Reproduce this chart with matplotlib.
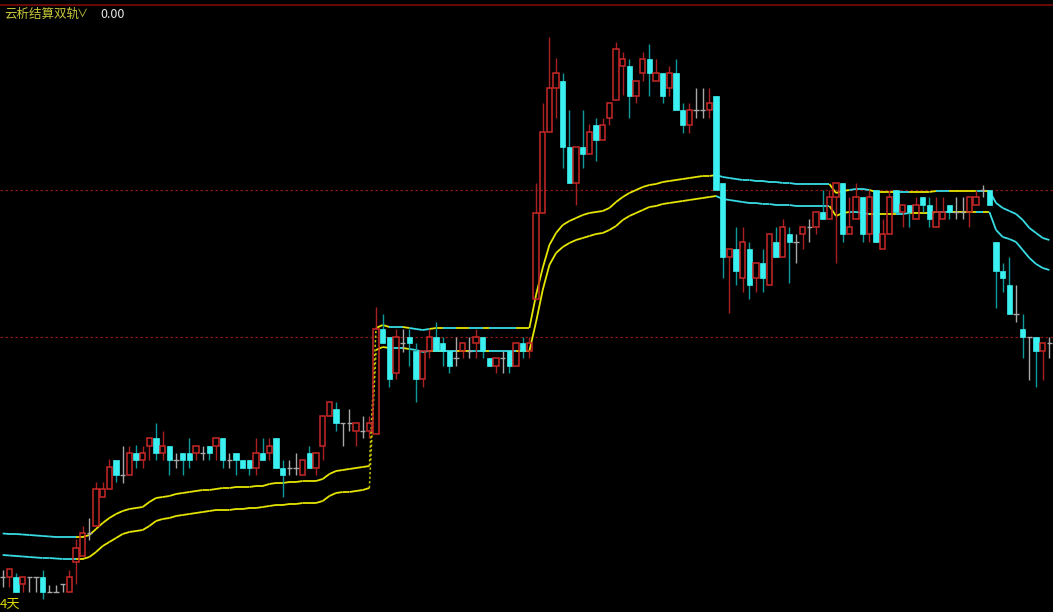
import matplotlib
matplotlib.use('Agg')
import matplotlib.pyplot as plt
from matplotlib.collections import LineCollection
from matplotlib.patches import Rectangle

# K线数据 (开, 收, 高, 低)
opens = [3.5, 3.5, 3.5, 2.8, 3.5, 3.5, 3.5, 2.0, 2.0, 2.8, 2.0, 5.0, 5.6, 7.9, 8.6, 11.5, 12.3, 15.2, 13.7, 13.7,
         15.9, 15.2, 16.6, 17.4, 15.9, 16.6, 15.2, 15.9, 15.9, 15.9, 15.9, 16.6, 16.6, 17.4, 15.2, 15.9, 15.2, 15.2, 14.4, 15.9,
         15.9, 17.4, 14.4, 14.4, 14.4, 13.7, 15.9, 14.4, 16.6, 19.6, 20.3, 18.9, 18.9, 18.1, 18.1, 18.1, 17.8, 28.3, 27.5, 23.9,
         26.9, 27.5, 26.1, 23.3, 26.1, 27.5, 26.9, 26.1, 25.4, 26.1, 26.1, 26.9, 27.5, 25.4, 24.6, 25.4, 26.1, 24.6, 26.9, 26.1,
         31.3, 39.9, 48.0, 52.4, 53.1, 46.5, 42.9, 46.5, 45.8, 48.7, 47.2, 49.4, 51.2, 54.6, 54.6, 51.6, 53.9, 55.3, 53.1, 53.9,
         52.4, 53.9, 50.2, 48.7, 50.2, 50.2, 50.2, 51.6, 42.9, 35.5, 36.3, 33.4, 36.3, 33.4, 34.9, 32.7, 37.0, 35.5, 37.8, 37.0,
         37.8, 38.5, 38.5, 40.0, 39.3, 41.5, 42.9, 37.8, 39.3, 41.5, 37.8, 42.2, 36.3, 37.8, 42.2, 40.0, 40.7, 39.3, 41.5, 40.7,
         38.5, 39.3, 40.7, 40.0, 40.0, 40.0, 40.7, 42.2, 42.2, 37.0, 34.1, 32.7, 29.8, 28.3, 27.5, 27.5, 26.1, 26.9]
closes = [3.5, 4.3, 2.0, 3.5, 3.5, 3.5, 2.0, 2.0, 2.0, 2.8, 3.5, 6.4, 7.9, 7.9, 12.3, 12.3, 14.5, 13.7, 13.7, 15.9,
          15.2, 15.9, 17.4, 15.9, 16.6, 15.2, 15.2, 15.2, 15.2, 16.6, 15.9, 15.9, 17.4, 15.2, 15.2, 15.2, 14.4, 14.4, 15.9, 15.2,
          16.6, 14.4, 13.7, 14.4, 14.4, 15.2, 14.4, 15.9, 19.6, 21.0, 18.9, 18.9, 18.9, 18.9, 18.1, 18.9, 28.3, 26.9, 23.3, 27.5,
          26.9, 26.9, 23.3, 26.1, 27.5, 26.1, 26.1, 24.6, 25.4, 26.9, 26.1, 27.5, 26.1, 24.6, 25.4, 25.4, 24.6, 26.9, 26.1, 26.9,
          39.9, 48.0, 52.4, 53.9, 46.5, 42.9, 46.5, 45.8, 48.0, 47.2, 48.7, 50.9, 56.3, 55.3, 51.6, 53.1, 55.3, 53.9, 53.9, 51.6,
          53.9, 50.2, 48.7, 50.2, 50.2, 50.2, 50.9, 42.2, 35.5, 36.3, 34.1, 37.0, 32.7, 34.9, 33.4, 37.8, 35.5, 38.5, 37.0, 37.0,
          38.5, 38.5, 40.0, 39.3, 41.5, 42.9, 37.8, 38.5, 41.5, 37.8, 41.5, 37.0, 37.8, 41.5, 40.0, 40.7, 40.0, 40.7, 40.7, 39.3,
          40.0, 40.0, 40.0, 40.0, 40.0, 41.5, 41.5, 42.2, 40.7, 34.1, 33.4, 29.8, 29.8, 27.5, 27.5, 26.1, 26.9, 26.9]
highs = [4.2, 4.3, 3.9, 3.5, 3.5, 3.5, 4.2, 2.7, 2.7, 2.8, 4.2, 7.3, 8.6, 9.4, 13.0, 13.0, 15.3, 15.2, 16.6, 16.6,
         16.7, 16.6, 17.4, 18.9, 18.1, 16.6, 15.9, 15.9, 17.4, 16.6, 16.6, 16.6, 17.4, 17.4, 15.9, 15.9, 15.2, 15.2, 17.4, 17.4,
         17.4, 17.4, 15.2, 15.2, 15.9, 15.2, 16.6, 15.9, 19.6, 21.0, 21.0, 18.9, 20.3, 18.9, 19.6, 19.6, 30.5, 29.8, 27.5, 28.3,
         28.3, 28.3, 26.9, 26.1, 28.3, 29.0, 27.5, 26.1, 27.5, 26.9, 27.5, 28.3, 27.5, 25.4, 25.4, 26.1, 26.1, 26.9, 27.5, 27.5,
         42.9, 50.9, 57.5, 55.4, 53.9, 50.2, 46.5, 50.2, 48.8, 49.4, 49.4, 50.9, 57.0, 56.0, 55.3, 53.1, 56.0, 56.8, 55.3, 53.9,
         54.6, 55.3, 50.9, 50.9, 52.4, 52.4, 52.4, 51.6, 42.9, 36.3, 38.5, 38.5, 37.0, 34.9, 36.3, 37.8, 38.5, 39.3, 38.5, 37.8,
         38.5, 39.3, 40.0, 42.2, 42.2, 42.9, 42.9, 41.5, 42.9, 41.5, 42.2, 42.2, 39.3, 42.2, 42.2, 40.7, 40.7, 41.5, 41.5, 41.5,
         41.5, 41.5, 40.7, 41.5, 41.5, 41.5, 42.2, 42.7, 42.2, 37.0, 34.9, 35.5, 32.7, 29.8, 27.5, 27.5, 26.9, 27.5]
lows = [2.5, 2.5, 2.0, 2.0, 2.0, 2.0, 1.3, 2.0, 2.0, 2.0, 2.0, 2.8, 5.6, 7.2, 8.6, 11.5, 12.3, 13.0, 12.9, 13.7,
        14.4, 14.4, 15.2, 15.2, 15.2, 13.7, 14.4, 13.7, 14.4, 15.2, 15.2, 15.2, 15.2, 14.4, 14.4, 13.7, 14.4, 13.7, 13.7, 15.2,
        15.2, 14.4, 11.5, 13.7, 13.7, 13.7, 14.4, 13.7, 15.2, 19.6, 18.1, 16.6, 18.1, 16.6, 17.4, 17.4, 17.8, 26.9, 22.5, 23.3,
        26.0, 24.6, 21.0, 22.5, 25.4, 26.1, 24.6, 23.9, 24.6, 25.4, 25.4, 25.4, 25.4, 24.6, 23.9, 23.9, 23.9, 24.6, 25.4, 25.4,
        31.2, 39.9, 48.0, 49.4, 44.4, 42.9, 40.7, 44.4, 45.8, 45.1, 47.2, 48.7, 51.2, 51.7, 49.4, 50.9, 53.1, 51.6, 53.1, 50.9,
        51.6, 50.2, 47.9, 47.9, 49.4, 49.4, 49.4, 42.2, 33.4, 29.9, 32.7, 32.0, 31.3, 32.0, 32.0, 32.7, 35.5, 35.5, 32.9, 34.9,
        36.3, 37.0, 37.8, 39.3, 39.3, 34.9, 37.0, 37.8, 39.3, 37.0, 37.0, 37.0, 36.3, 37.8, 40.0, 38.5, 38.5, 39.3, 40.0, 38.5,
        38.5, 39.3, 39.3, 39.3, 39.3, 38.5, 40.7, 41.5, 40.7, 30.4, 32.0, 29.8, 29.0, 25.4, 23.2, 22.5, 23.2, 25.4]

# 双轨 (上轨 / 下轨)
upper = [7.85, 7.8, 7.8, 7.75, 7.7, 7.65, 7.6, 7.55, 7.5, 7.5, 7.5,
         7.5, 7.5, 7.7, 8.3, 8.9, 9.4, 9.8, 10.1, 10.3, 10.4, 10.5, 11.0, 11.4, 11.5, 11.6, 11.8, 11.9, 12.0, 12.1,
         12.2, 12.2, 12.3, 12.4, 12.4, 12.5, 12.5, 12.5, 12.6, 12.6, 12.8, 12.9, 12.9, 13.0, 13.0, 13.1, 13.1, 13.1,
         13.3, 13.8, 14.1, 14.2, 14.3, 14.4, 14.5, 14.6,
         28.4, 28.7, 28.5, 28.5, 28.5, 28.4, 28.3, 28.2, 28.3, 28.4, 28.4, 28.4, 28.4, 28.4, 28.4, 28.4, 28.4, 28.4,
         28.4, 28.4, 28.4, 28.4, 28.4, 28.4,
         31.7, 34.4, 36.7, 37.9, 38.7, 39.1, 39.4, 39.7, 39.9, 40.0, 40.1, 40.4, 41.0, 41.5, 41.9, 42.2, 42.5, 42.7,
         42.8, 43.0, 43.1, 43.2, 43.3, 43.4, 43.5, 43.6, 43.6, 43.7,
         43.5, 43.4, 43.3, 43.2, 43.2, 43.1, 43.1, 43.0, 43.0, 42.9, 42.9, 42.8, 42.8, 42.8, 42.8, 42.8, 42.8,
         41.9, 42.1, 42.2, 42.3, 42.3, 42.2, 42.0, 42.0, 42.0, 42.0, 42.0, 42.0, 42.0, 42.0, 42.0, 42.1, 42.1, 42.1,
         42.1, 42.1, 42.1, 42.1, 42.1, 42.1,
         40.9, 40.4, 40.1, 39.8, 39.2, 38.4, 37.9, 37.4, 37.2]
lower = [5.7, 5.65, 5.6, 5.55, 5.5, 5.45, 5.4, 5.4, 5.35, 5.3, 5.3,
         5.3, 5.3, 5.5, 6.0, 6.6, 7.0, 7.4, 7.8, 8.0, 8.1, 8.2, 8.6, 9.1, 9.3, 9.4, 9.6, 9.7, 9.8, 9.9,
         10.0, 10.1, 10.2, 10.2, 10.2, 10.3, 10.3, 10.4, 10.4, 10.5, 10.6, 10.7, 10.7, 10.8, 10.8, 10.9, 10.9, 10.9,
         11.1, 11.6, 11.9, 12.0, 12.0, 12.1, 12.2, 12.4,
         26.2, 26.5, 26.4, 26.4, 26.4, 26.3, 26.2, 26.0, 26.1, 26.1, 26.1, 26.1, 26.1, 26.1, 26.1, 26.1, 26.1, 26.1,
         26.1, 26.1, 26.1, 26.1, 26.1, 26.1,
         29.0, 32.2, 34.7, 35.9, 36.5, 36.9, 37.2, 37.4, 37.6, 37.8, 37.9, 38.2, 38.6, 39.2, 39.6, 39.9, 40.2, 40.5,
         40.6, 40.8, 40.9, 41.0, 41.1, 41.2, 41.3, 41.4, 41.5, 41.6,
         41.3, 41.2, 41.1, 41.0, 40.9, 40.9, 40.8, 40.8, 40.7, 40.7, 40.7, 40.6, 40.6, 40.6, 40.6, 40.6, 40.6,
         39.6, 39.9, 40.0, 40.0, 39.9, 39.8, 39.8, 39.8, 39.8, 39.8, 39.8, 39.9, 39.9, 39.9, 39.9, 40.0, 40.0, 40.0,
         40.0, 40.0, 40.0, 40.0, 40.0, 40.0,
         38.2, 37.5, 37.3, 37.0, 36.2, 35.4, 34.8, 34.4, 34.2]
# 轨道状态: 1 = 多头(黄), 0 = 空头(青)
band_trend = ([0] * 11 + [1] * 45 +
              [1, 1, 0, 0, 1, 0, 0, 0, 1, 1, 0, 0, 1, 1, 0, 0, 1, 0, 0, 0, 0, 1, 1, 1] +
              [1] * 27 + [0] * 17 +
              [1, 1, 1, 0, 0, 0, 1, 1, 1, 1, 0, 0, 1, 1, 1, 1, 0, 0, 1, 1, 1, 1, 0, 1] +
              [0] * 10)
gap_index = 55  # 跳空处用虚线连接
grid_levels = [42.2, 27.5]

UP = '#c82828'
UP_WICK = '#a82020'
DOWN = '#3af0f0'
DOWN_WICK = '#0f9a9a'
FLAT = '#a8a8a8'
YELLOW = '#e6e600'
CYAN = '#38dce4'

fig = plt.figure(figsize=(10.53, 6.12), dpi=100, facecolor='black')
ax = fig.add_axes([0, 0, 1, 1])
ax.set_facecolor('black')
ax.set_xlim(-0.405, 157.54)
ax.set_ylim(0, 61.2)
ax.axis('off')

for lv in grid_levels:
    ax.axhline(lv, color='#8a1616', lw=0.9, ls=(0, (2, 2)), zorder=1)

# 双轨
for band in (upper, lower):
    segs, cols = [], []
    for i in range(len(band) - 1):
        if i == gap_index:
            continue
        segs.append([(i, band[i]), (i + 1, band[i + 1])])
        cols.append(YELLOW if band_trend[i] else CYAN)
    ax.add_collection(LineCollection(segs, colors=cols, linewidths=1.3, zorder=2))
    ax.plot([gap_index, gap_index + 1], [band[gap_index], band[gap_index + 1]],
            color='#c8c800', lw=1.1, ls=(0, (1.5, 1.5)), zorder=2)

# K线
w = 0.78
for i in range(len(opens)):
    o, c, h, l = opens[i], closes[i], highs[i], lows[i]
    top, bot = max(o, c), min(o, c)
    if c > o:
        ax.vlines(i, top, h, color=UP_WICK, lw=1.0, zorder=3)
        ax.vlines(i, l, bot, color=UP_WICK, lw=1.0, zorder=3)
        ax.add_patch(Rectangle((i - w / 2, bot), w, top - bot, fill=False,
                               edgecolor=UP, lw=1.1, zorder=4))
    elif c < o:
        ax.vlines(i, l, h, color=DOWN_WICK, lw=1.0, zorder=3)
        ax.add_patch(Rectangle((i - w / 2, bot), w, top - bot, facecolor=DOWN,
                               edgecolor=DOWN, lw=0.5, zorder=4))
    else:
        ax.vlines(i, l, h, color=FLAT, lw=1.0, zorder=3)
        ax.hlines(o, i - w / 2, i + w / 2, color=FLAT, lw=1.0, zorder=4)

# 顶部边框
ax.axhline(60.7, color='#7a0c0c', lw=1.2, zorder=5)

fam = ['Noto Sans CJK SC', 'DejaVu Sans']
fig.text(4 / 1053, 1 - 14 / 612, '云析结算双轨', color='#c8c83a', fontsize=9,
         family=fam, va='center', ha='left')
fig.text(77 / 1053, 1 - 14 / 612, '∨', color='#c8c83a', fontsize=8,
         family=fam, va='center', ha='left')
fig.text(100 / 1053, 1 - 14 / 612, '0.00', color='#e8e8e8', fontsize=9,
         family=fam, va='center', ha='left')
fig.text(0 / 1053, 1 - 604 / 612, '4天', color='#d8d800', fontsize=9.5,
         family=fam, va='center', ha='left')

fig.savefig('out.png', dpi=100, facecolor='black')
